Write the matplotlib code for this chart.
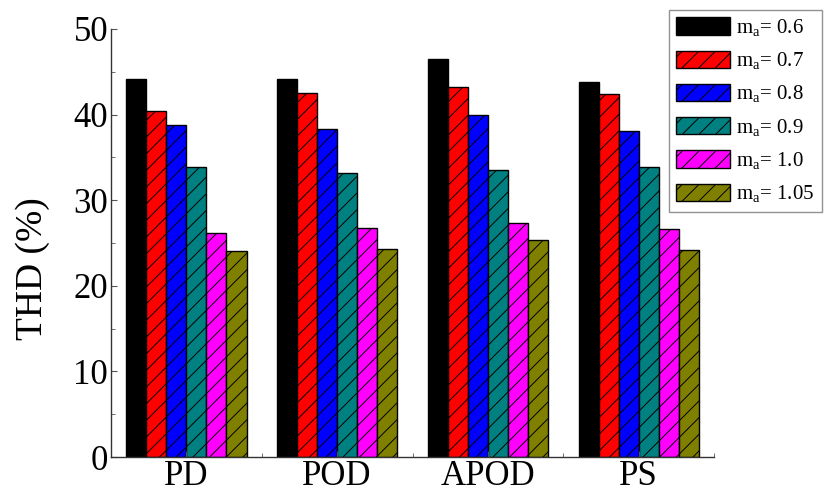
import matplotlib
matplotlib.use("Agg")
import matplotlib.pyplot as plt
import numpy as np
from matplotlib.ticker import MultipleLocator

# serif look like the original (Times)
plt.rcParams['font.family'] = 'Liberation Serif'
plt.rcParams['mathtext.fontset'] = 'custom'
plt.rcParams['mathtext.rm'] = 'Liberation Serif'
plt.rcParams['hatch.linewidth'] = 0.7

# data
methods = ['PD', 'POD', 'APOD', 'PS']
labels = ['m$_{\\rm a}$= 0.6', 'm$_{\\rm a}$= 0.7', 'm$_{\\rm a}$= 0.8',
          'm$_{\\rm a}$= 0.9', 'm$_{\\rm a}$= 1.0', 'm$_{\\rm a}$= 1.05']
thd_06 = [44.2, 44.1, 46.5, 43.8]
thd_07 = [40.4, 42.5, 43.2, 42.4]
thd_08 = [38.8, 38.3, 40.0, 38.1]
thd_09 = [33.9, 33.2, 33.5, 33.9]
thd_10 = [26.2, 26.7, 27.3, 26.6]
thd_105 = [24.1, 24.3, 25.3, 24.2]

series = [thd_06, thd_07, thd_08, thd_09, thd_10, thd_105]
colors = ['black', 'red', 'blue', '#008080', 'magenta', '#808000']
hatches = ['', '//', '//', '//', '//', '//']

fig = plt.figure(figsize=(8.24, 4.92), dpi=100)
ax = fig.add_axes([0.1347, 0.0711, 0.732, 0.870])

x = np.arange(len(methods))
w = 0.133
for i, vals in enumerate(series):
    ax.bar(x + (i - 2.5) * w, vals, w, color=colors[i], edgecolor='black',
           linewidth=1.0, hatch=hatches[i], label=labels[i])

ax.set_xlim(-0.5, 3.5)
ax.set_ylim(0, 50)
ax.set_xticks(x)
ax.set_xticklabels(methods, fontsize=25)
ax.xaxis.set_minor_locator(MultipleLocator(1.0, offset=0.5))
ax.yaxis.set_major_locator(MultipleLocator(10))
ax.yaxis.set_minor_locator(MultipleLocator(5))
ax.tick_params(axis='both', which='both', direction='in', colors='#555555',
               labelcolor='black', labelsize=25, pad=2)
ax.tick_params(which='major', length=4)
ax.tick_params(which='minor', length=3)
ax.set_ylabel('THD (%)', fontsize=27)
# label sits a bit below the middle in the original
ax.yaxis.set_label_coords(-0.101, 0.44)

for s in ['top', 'right']:
    ax.spines[s].set_visible(False)
for s in ['left', 'bottom']:
    ax.spines[s].set_color('#333333')
    ax.spines[s].set_linewidth(1.0)

leg = ax.legend(loc='upper right', bbox_to_anchor=(0.9976, 0.980),
                bbox_transform=fig.transFigure, fontsize=15, frameon=True,
                fancybox=False, handlelength=2.6, handleheight=0.9,
                labelspacing=0.56, borderpad=0.35, handletextpad=0.3,
                borderaxespad=0)
leg.get_frame().set_edgecolor('#777777')
leg.get_frame().set_linewidth(1.0)

fig.savefig('out.png', dpi=100)
